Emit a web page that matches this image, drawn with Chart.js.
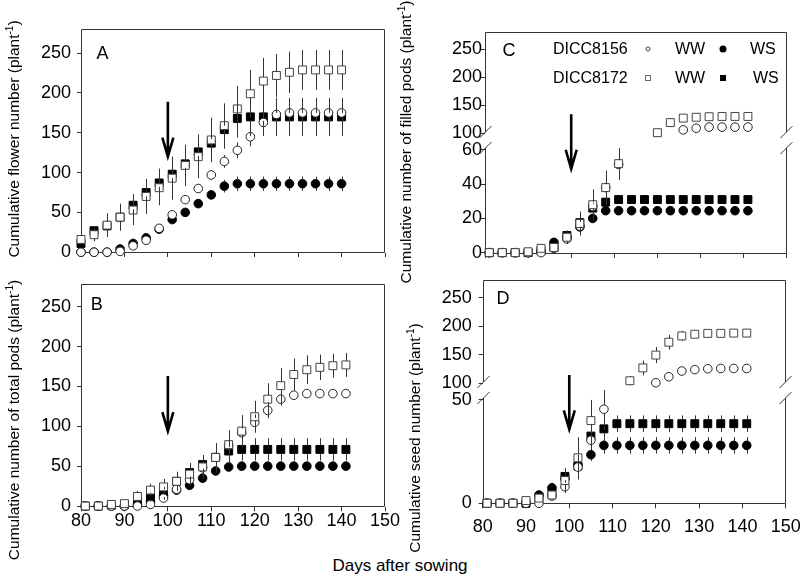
<!DOCTYPE html>
<html><head><meta charset="utf-8">
<script src="https://cdn.jsdelivr.net/npm/chart.js@4.4.1/dist/chart.umd.min.js"></script>
<style>
html,body{margin:0;padding:0;background:#fff;}
body{width:800px;height:582px;position:relative;overflow:hidden;font-family:'Liberation Sans',Arial,sans-serif;color:#000;}
canvas{position:absolute;}
.t{position:absolute;white-space:nowrap;line-height:1;transform:translate(-50%,-50%);}
.l{position:absolute;white-space:nowrap;line-height:1;transform:translate(0,-50%);font-size:16px;}
.yt{position:absolute;white-space:nowrap;line-height:1;font-size:15.5px;transform:translate(-50%,-50%) rotate(-90deg);}
.yt sup{font-size:10px;vertical-align:0;position:relative;top:-6px;}
.mk{position:absolute;box-sizing:border-box;transform:translate(-50%,-50%);}
</style></head><body>
<canvas id="cA" width="400" height="270" style="left:0;top:0"></canvas>
<canvas id="cB" width="400" height="275" style="left:0;top:270px"></canvas>
<canvas id="cC" width="400" height="270" style="left:400px;top:0"></canvas>
<canvas id="cD" width="400" height="275" style="left:400px;top:270px"></canvas>

<div class="t" style="left:102.5px;top:53px;font-size:18px">A</div>
<div class="t" style="left:96.7px;top:304px;font-size:18px">B</div>
<div class="t" style="left:509px;top:50px;font-size:18px">C</div>
<div class="t" style="left:503px;top:297.5px;font-size:18px">D</div>

<div class="l" style="left:553px;top:49.3px">DICC8156</div>
<div class="l" style="left:675px;top:49.3px">WW</div>
<div class="l" style="left:750px;top:49.3px">WS</div>
<div class="l" style="left:553px;top:78.3px">DICC8172</div>
<div class="l" style="left:675px;top:78.3px">WW</div>
<div class="l" style="left:753px;top:78.3px">WS</div>
<div class="mk" style="left:648.3px;top:48.8px;width:5px;height:5px;border:1px solid #444;border-radius:50%"></div>
<div class="mk" style="left:722.7px;top:48.8px;width:7px;height:7px;background:#000;border-radius:50%"></div>
<div class="mk" style="left:648.3px;top:78.3px;width:6px;height:6px;border:1px solid #666"></div>
<div class="mk" style="left:722.7px;top:78.3px;width:6px;height:6px;background:#000"></div>

<div class="yt" style="left:14px;top:139px">Cumulative flower number (plant<sup>-1</sup>)</div>
<div class="yt" style="left:14px;top:420px">Cumulative number of total pods (plant<sup>-1</sup>)</div>
<div class="yt" style="left:406px;top:142px">Cumulative number of filled pods (plant<sup>-1</sup>)</div>
<div class="yt" style="left:415px;top:438px">Cumulative seed number (plant<sup>-1</sup>)</div>
<div class="t" style="left:400px;top:565px;font-size:17px">Days after sowing</div>

<script>
// ---------- ticks ----------
const xTicks = [80, 90, 100, 110, 120, 130, 140, 150];
const yTicksMain = [0, 50, 100, 150, 200, 250];
const yTicksCLow = [0, 20, 40, 60];
const yTicksDLow = [0, 50];
const yTicksHigh = [100, 150, 200, 250];

// ---------- days ----------
const daysA = [80,83,86,89,92,95,98,101,104,107,110,113,116,119,122,125,128,131,134,137,140];
const daysBCD = [81,84,87,90,93,96,99,102,105,108,111,114,117,120,123,126,129,132,135,138,141];

// ---------- Panel A: cumulative flower number ----------
const flowerWW8156 = [0,0,0,1,8,15,30,47,66,80,97,114,128,145,163,173,175,175,175,175,175];
const flowerWS8156 = [0,0,0,4,11,18,29,41,50,61,72,83,86,86,86,86,86,86,86,86,86];
const flowerWW8172 = [16,22,34,44,53,70,81,93,109,120,141,159,180,199,215,222,226,229,229,229,229];
const flowerWS8172 = [11,27,33,44,59,75,87,98,111,126,137,154,168,170,170,170,170,170,170,170,170];
const flowerWW8156Err = [0,0,0,1,2,3,3,4,5,5,6,8,10,12,14,15,15,15,15,15,15];
const flowerWS8156Err = [0,0,0,1,2,2,3,3,4,4,6,8,9,9,9,9,9,9,9,9,9];
const flowerWW8172Err = [6,8,15,17,19,22,22,27,26,27,28,28,29,30,29,27,26,25,25,25,25];
const flowerWS8172Err = [3,5,10,12,14,16,18,20,22,22,23,24,24,24,24,24,24,24,24,24,24];

// ---------- Panel B: cumulative number of total pods ----------
const podsWW8156 = [0,0,0,0,0,2,10,21,33,48,61,76,92,105,120,134,139,141,141,141,141];
const podsWS8156 = [0,0,0,0,2,6,13,20,26,35,44,49,50,50,50,50,50,50,50,50,50];
const podsWW8172 = [0,0,2,3,12,20,24,31,40,49,61,77,94,112,134,151,165,171,174,176,177];
const podsWS8172 = [0,0,1,2,6,11,16,31,42,52,61,69,71,71,71,71,71,71,71,71,71];
const podsWW8156Err = [0,0,0,0,1,2,3,4,4,5,5,6,8,10,10,8,6,4,3,3,3];
const podsWS8156Err = [0,0,0,0,1,2,3,3,4,5,5,6,6,6,6,6,6,6,6,6,6];
const podsWW8172Err = [1,1,2,3,7,8,10,12,14,15,18,18,20,20,20,22,20,18,16,15,15];
const podsWS8172Err = [0,0,1,2,4,6,8,10,11,12,13,14,14,14,14,14,14,14,14,14,14];

// ---------- Panel C: cumulative number of filled pods ----------
const filledWW8156 = [0,0,0,0,0,2.5,8,15.5,27,38,51.5,null,null,null,null,106,109,111,111,111,111];
const filledWS8156 = [0,0,0,0,1,6,9,15,20,24.5,24.5,24.5,24.5,24.5,24.5,24.5,24.5,24.5,24.5,24.5,24.5];
const filledWW8172 = [0,0,0,0.5,2.5,3,9,17,28,38,52,null,null,101,119,127,128.5,129.5,130,130,130];
const filledWS8172 = [0,0,0,0,1,3,10,17.5,26,29.5,31,31,31,31,31,31,31,31,31,31,31];
const filledWW8156Err = [0,0,0,0,0,1,2,5,6,9,9,0,0,0,0,2,1,1,1,1,1];
const filledWS8156Err = [0,0,0,0,0,1,1,2,2,2,2,2,2,2,2,2,2,2,2,2,2];
const filledWW8172Err = [0,0,0,0,1,1,4,7,9,10,9,0,0,0,8,2,1,1,1,1,1];
const filledWS8172Err = [0,0,0,0,0,1,2,3,3,2,2,2,2,2,2,2,2,2,2,2,2];

// ---------- Panel D: cumulative seed number ----------
const seedWW8156 = [0,0,0,0,0,3.5,8,17.5,30.5,45.5,null,null,null,101,111.5,121.5,124,125.5,126,126,126];
const seedWS8156 = [0,0,0,0,4,7.5,12,18.5,23.5,28,28,28,28,28,28,28,28,28,28,28,28];
const seedWW8172 = [0,0,0,1.3,2.5,4,11,22,40,null,null,104.5,127,149.5,172,183,186,187.5,187.5,188,188];
const seedWS8172 = [0,0,0,0,3,5,13,18,32.5,36,38.5,38.5,38.5,38.5,38.5,38.5,38.5,38.5,38.5,38.5,38.5];
const seedWW8156Err = [0,0,0,0,0,1,3,6,5,10,0,0,0,0,2,2,1,1,1,1,1];
const seedWS8156Err = [0,0,0,0,1,1,2,2,3,4,4,4,4,4,4,4,4,4,4,4,4];
const seedWW8172Err = [0,0,0,1,1,2,6,10,10,0,0,8,13,14,13,9,5,3,3,3,3];
const seedWS8172Err = [0,0,0,0,1,1,3,4,4,4,4,4,4,4,4,4,4,4,4,4,4];

// ---------- styling ----------
const FONT = "'Liberation Sans', Arial, sans-serif";
Chart.defaults.font.family = FONT;
Chart.defaults.color = '#000';
const STY = {
  ww56: {pointStyle:'circle', pointRadius:4.3, pointBackgroundColor:'#fff', pointBorderColor:'#222', pointBorderWidth:1, order:1},
  ws56: {pointStyle:'circle', pointRadius:4.3, pointBackgroundColor:'#000', pointBorderColor:'#000', pointBorderWidth:1, order:3},
  ww72: {pointStyle:'rect', pointRadius:5.6, pointBackgroundColor:'#fff', pointBorderColor:'#444', pointBorderWidth:1, order:0},
  ws72: {pointStyle:'rect', pointRadius:5.6, pointBackgroundColor:'#000', pointBorderColor:'#000', pointBorderWidth:1, order:2}
};

function buildSets(days, series, split) {
  const out = [];
  series.forEach(s => {
    const groups = split
      ? [['yHigh', v => v >= split.hi], ['yLow', v => v <= split.lo]]
      : [['y', () => true]];
    groups.forEach(([ax, test]) => {
      const data = [], errs = [];
      days.forEach((d, i) => {
        const v = s.vals[i];
        if (v === null || !test(v)) return;
        data.push({x: d, y: v});
        errs.push(s.errs[i]);
      });
      out.push(Object.assign({data, errs, yAxisID: ax, showLine: false, clip: false}, STY[s.sty]));
    });
  });
  return out;
}

const framePlugin = {
  id: 'frame',
  beforeDatasetsDraw(chart, args, opts) {
    const a = chart.chartArea, ctx = chart.ctx;
    const L = Math.round(a.left) + 0.5, R = Math.round(a.right) - 0.5;
    const T = Math.round(a.top) + 0.5, B = Math.round(a.bottom) - 0.5;
    ctx.save();
    ctx.strokeStyle = '#333'; ctx.lineWidth = 1;
    ctx.beginPath();
    ctx.moveTo(L, T); ctx.lineTo(R, T);
    ctx.moveTo(L, B); ctx.lineTo(R, B);
    if (opts.broken) {
      const yb = Math.max(chart.scales.yLow.top, chart.scales.yHigh.top);
      const g = 8;
      [L, R].forEach(x => {
        ctx.moveTo(x, T); ctx.lineTo(x, yb - g);
        ctx.moveTo(x, yb + g); ctx.lineTo(x, B);
        [yb - g, yb + g].forEach(y => {
          ctx.moveTo(x - 6, y + 6); ctx.lineTo(x + 6, y - 6);
        });
      });
    } else {
      ctx.moveTo(L, T); ctx.lineTo(L, B);
      ctx.moveTo(R, T); ctx.lineTo(R, B);
    }
    ctx.stroke();
    ctx.restore();
  }
};

const errPlugin = {
  id: 'errbars',
  afterDatasetsDraw(chart) {
    const ctx = chart.ctx;
    ctx.save();
    ctx.strokeStyle = '#333'; ctx.lineWidth = 1;
    chart.data.datasets.forEach((ds, di) => {
      const meta = chart.getDatasetMeta(di);
      const ys = chart.scales[meta.yAxisID];
      const r = ds.pointStyle === 'rect' ? ds.pointRadius * Math.SQRT1_2 : ds.pointRadius;
      ds.data.forEach((p, i) => {
        const e = ds.errs[i];
        if (!e) return;
        const el = meta.data[i];
        const x = Math.round(el.x) + 0.5;
        const yTop = Math.max(ys.top, ys.getPixelForValue(p.y + e));
        const yBot = Math.min(ys.bottom, ys.getPixelForValue(p.y - e));
        ctx.beginPath();
        if (yTop < el.y - r) { ctx.moveTo(x, el.y - r); ctx.lineTo(x, yTop); }
        if (yBot > el.y + r) { ctx.moveTo(x, el.y + r); ctx.lineTo(x, yBot); }
        ctx.stroke();
      });
    });
    ctx.restore();
  }
};

const arrowPlugin = {
  id: 'arrow',
  afterDatasetsDraw(chart, args, o) {
    const ctx = chart.ctx;
    const X = chart.scales.x.getPixelForValue(o.x);
    const y1 = chart.scales[o.tail[0]].getPixelForValue(o.tail[1]);
    const y2 = chart.scales[o.tip[0]].getPixelForValue(o.tip[1]);
    ctx.save();
    ctx.strokeStyle = '#000'; ctx.lineWidth = 2.6; ctx.lineJoin = 'miter';
    ctx.beginPath();
    ctx.moveTo(X, y1); ctx.lineTo(X, y2 - 2);
    ctx.moveTo(X - 5.5, y2 - 19); ctx.lineTo(X, y2); ctx.lineTo(X + 5.5, y2 - 19);
    ctx.stroke();
    ctx.restore();
  }
};

function makePanel(id, p) {
  const [cl, ct, cw, ch] = p.canvas;
  const [l, t, r, b] = p.area;
  const tickGrid = {display: true, drawOnChartArea: false, drawTicks: true, tickLength: 4, color: '#333', lineWidth: 1};
  const scales = {
    x: {
      type: 'linear', min: 80, max: 150,
      grid: tickGrid, border: {display: false},
      ticks: {autoSkip: false, maxRotation: 0, font: {size: 18}, color: '#000', padding: p.xPad,
              callback: p.xLabels ? (v => String(v)) : (() => '')},
      afterBuildTicks: s => { s.ticks = xTicks.map(v => ({value: v})); },
      afterFit: s => { s.height = ct + ch - b; s.paddingLeft = 0; s.paddingRight = 0; }
    }
  };
  p.yAxes.forEach(ax => {
    scales[ax.id] = {
      type: 'linear', position: 'left', min: ax.min, max: ax.max,
      grid: tickGrid, border: {display: false},
      ticks: {autoSkip: false, font: {size: 18}, color: '#000', padding: p.yPad},
      afterBuildTicks: s => { s.ticks = ax.ticks.map(v => ({value: v})); },
      afterFit: s => { s.width = l - cl; s.paddingTop = 0; s.paddingBottom = 0; }
    };
    if (ax.weight) { scales[ax.id].stack = 'ys'; scales[ax.id].stackWeight = ax.weight; }
  });
  return new Chart(document.getElementById(id), {
    type: 'scatter',
    data: {datasets: p.datasets},
    options: {
      responsive: false, maintainAspectRatio: false, animation: false, events: [],
      devicePixelRatio: 1,
      layout: {padding: {left: 0, top: t - ct, right: cl + cw - r, bottom: 0}},
      scales,
      plugins: {
        legend: {display: false}, tooltip: {enabled: false},
        frame: {broken: !!p.broken},
        arrow: p.arrow
      }
    },
    plugins: [framePlugin, errPlugin, arrowPlugin]
  });
}

makePanel('cA', {
  canvas: [0, 0, 400, 270], area: [81, 29.3, 385, 253],
  xLabels: false, xPad: 0, yPad: 6,
  yAxes: [{id: 'y', min: -1, max: 280, ticks: yTicksMain}],
  arrow: {x: 100, tail: ['y', 189], tip: ['y', 120]},
  datasets: buildSets(daysA, [
    {vals: flowerWW8156, errs: flowerWW8156Err, sty: 'ww56'},
    {vals: flowerWS8156, errs: flowerWS8156Err, sty: 'ws56'},
    {vals: flowerWW8172, errs: flowerWW8172Err, sty: 'ww72'},
    {vals: flowerWS8172, errs: flowerWS8172Err, sty: 'ws72'}
  ])
});

makePanel('cB', {
  canvas: [0, 270, 400, 275], area: [81, 284, 385, 507.3],
  xLabels: true, xPad: -1.5, yPad: 6,
  yAxes: [{id: 'y', min: -1.6, max: 278.5, ticks: yTicksMain}],
  arrow: {x: 100, tail: ['y', 163], tip: ['y', 94]},
  datasets: buildSets(daysBCD, [
    {vals: podsWW8156, errs: podsWW8156Err, sty: 'ww56'},
    {vals: podsWS8156, errs: podsWS8156Err, sty: 'ws56'},
    {vals: podsWW8172, errs: podsWW8172Err, sty: 'ww72'},
    {vals: podsWS8172, errs: podsWS8172Err, sty: 'ws72'}
  ])
});

makePanel('cC', {
  canvas: [400, 0, 400, 270], area: [485, 31.7, 786.7, 254],
  xLabels: false, xPad: 0, yPad: -1, broken: true,
  yAxes: [
    {id: 'yLow', min: -0.8, max: 65.8, ticks: yTicksCLow, weight: 114},
    {id: 'yHigh', min: 88, max: 281, ticks: yTicksHigh, weight: 108.3}
  ],
  arrow: {x: 100, tail: ['yHigh', 134], tip: ['yLow', 49]},
  datasets: buildSets(daysBCD, [
    {vals: filledWW8156, errs: filledWW8156Err, sty: 'ww56'},
    {vals: filledWS8156, errs: filledWS8156Err, sty: 'ws56'},
    {vals: filledWW8172, errs: filledWW8172Err, sty: 'ww72'},
    {vals: filledWS8172, errs: filledWS8172Err, sty: 'ws72'}
  ], {lo: 65, hi: 85})
});

makePanel('cD', {
  canvas: [400, 270, 400, 275], area: [482.7, 280, 785.7, 504.3],
  xLabels: true, xPad: 8.3, yPad: 7, broken: true,
  yAxes: [
    {id: 'yLow', min: -0.5, max: 54.8, ticks: yTicksDLow, weight: 114.3},
    {id: 'yHigh', min: 88.3, max: 281, ticks: yTicksHigh, weight: 110}
  ],
  arrow: {x: 100, tail: ['yHigh', 114.5], tip: ['yLow', 35.8]},
  datasets: buildSets(daysBCD, [
    {vals: seedWW8156, errs: seedWW8156Err, sty: 'ww56'},
    {vals: seedWS8156, errs: seedWS8156Err, sty: 'ws56'},
    {vals: seedWW8172, errs: seedWW8172Err, sty: 'ww72'},
    {vals: seedWS8172, errs: seedWS8172Err, sty: 'ws72'}
  ], {lo: 54, hi: 85})
});
</script>
</body></html>
